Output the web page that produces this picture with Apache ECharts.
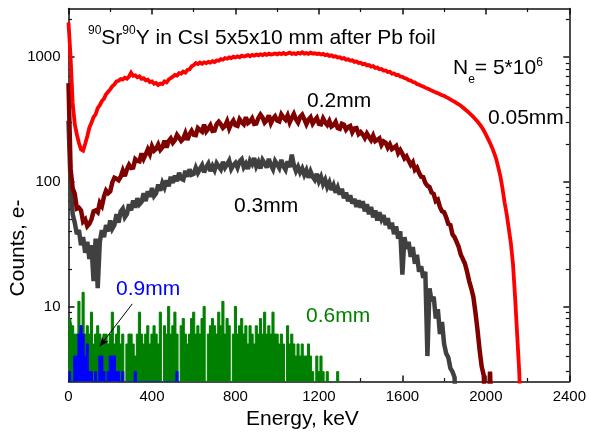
<!DOCTYPE html>
<html><head><meta charset="utf-8">
<script src="https://cdn.jsdelivr.net/npm/echarts@6/dist/echarts.min.js"></script>
<style>html,body{margin:0;padding:0;background:#fff}#c{width:589px;height:433px}</style>
</head><body><div id="c"></div>
<script>
// channel width of the spectra (keV); value i belongs to energy i*binKeV
const binKeV = 10;

// 0.05 mm Pb (red)
const counts005 = [1900, 1000, 430, 290, 240, 205, 182, 178, 202, 232,
 272, 298, 330, 348, 390, 412, 445, 465, 505, 528,
 552, 585, 605, 640, 648, 668, 662, 685, 672, 700,
 752, 708, 715, 690, 702, 672, 680, 652, 660, 632,
 640, 612, 622, 598, 615, 608, 640, 628, 662, 680,
 698, 722, 712, 745, 738, 768, 752, 790, 800, 845,
 862, 898, 880, 905, 885, 910, 895, 918, 905, 930,
 915, 942, 938, 965, 955, 985, 972, 998, 985, 1010,
 995, 1015, 1000, 1030, 1012, 1025, 1040, 1018, 1045, 1028,
 1050, 1035, 1055, 1040, 1062, 1045, 1068, 1050, 1060, 1072,
 1055, 1075, 1060, 1082, 1058, 1070, 1090, 1065, 1078, 1060,
 1085, 1070, 1095, 1068, 1080, 1062, 1088, 1070, 1075, 1060,
 1070, 1052, 1065, 1040, 1050, 1025, 1035, 1010, 1018, 995,
 1000, 975, 985, 955, 962, 940, 945, 918, 925, 900,
 905, 880, 885, 860, 865, 840, 848, 820, 825, 800,
 805, 780, 782, 760, 765, 738, 742, 720, 722, 700,
 695, 680, 672, 655, 650, 632, 628, 610, 600, 590,
 582, 570, 560, 552, 540, 532, 522, 515, 505, 495,
 490, 478, 470, 458, 448, 440, 428, 418, 408, 395,
 382, 370, 358, 345, 332, 318, 305, 290, 275, 258,
 240, 222, 205, 188, 170, 152, 130, 110, 88, 68,
 55, 42, 32, 22, 12, 6, 3, 1];

// 0.2 mm Pb (dark red)
const counts02 = [620, 127, 89, 80, 61, 62, 59, 48, 50, 44,
 46, 50, 58, 59, 57, 68, 64, 76, 85, 81,
 84, 99, 108, 106, 103, 110, 123, 111, 126, 137,
 129, 130, 152, 147, 146, 169, 153, 166, 182, 167,
 193, 178, 184, 199, 181, 190, 214, 188, 212, 223,
 206, 216, 238, 226, 213, 222, 245, 217, 241, 257,
 239, 237, 270, 261, 253, 288, 254, 267, 284, 256,
 258, 290, 303, 289, 271, 281, 306, 268, 293, 310,
 285, 281, 318, 301, 290, 330, 296, 305, 323, 292,
 294, 325, 346, 328, 299, 312, 341, 296, 321, 336,
 310, 305, 347, 328, 315, 341, 300, 326, 351, 318,
 299, 331, 345, 318, 290, 315, 330, 293, 311, 326,
 292, 289, 322, 300, 286, 308, 278, 285, 303, 270,
 266, 292, 287, 262, 275, 281, 250, 268, 270, 242,
 251, 240, 225, 244, 229, 216, 235, 212, 217, 223,
 198, 211, 206, 188, 200, 183, 188, 194, 170, 180,
 168, 154, 160, 148, 137, 144, 125, 130, 118, 110,
 109, 98, 93, 91, 82, 80, 70, 72, 63, 58,
 57, 52, 46, 45, 38, 36, 33, 30, 26, 24,
 22, 19, 16, 14, 12, 9, 6.5, 4.5, 3.3, 2.8,
 1, 1, 3, 1];

// 0.3 mm Pb (gray)
const counts03 = [310, 95, 55, 47, 38, 41, 31, 36, 27, 33,
 24, 31, 16, 35, 14, 33, 41, 36, 45, 40,
 49, 42, 45, 55, 47, 58, 61, 52, 55, 66,
 59, 71, 62, 74, 66, 69, 81, 70, 84, 76,
 89, 77, 81, 95, 85, 98, 90, 103, 92, 110,
 98, 112, 101, 118, 106, 104, 123, 110, 126, 114,
 116, 130, 118, 127, 136, 119, 131, 140, 122, 134,
 124, 141, 133, 126, 145, 130, 138, 148, 127, 136,
 142, 130, 146, 152, 131, 140, 127, 148, 139, 155,
 133, 144, 128, 150, 141, 130, 153, 136, 126, 147,
 138, 129, 150, 133, 125, 146, 131, 165, 136, 122,
 132, 119, 128, 114, 124, 108, 121, 110, 104, 116,
 101, 110, 96, 104, 91, 99, 86, 94, 82, 90,
 79, 88, 74, 82, 70, 78, 67, 73, 63, 71,
 62, 70, 58, 66, 55, 63, 52, 59, 49, 57,
 50, 54, 45, 51, 42, 47, 38, 44, 35, 40,
 18, 36, 29, 33, 25, 30, 22, 26, 19, 21,
 17, 19, 4, 14, 11, 12, 8, 9.5, 6, 7.5,
 5, 4.2, 3.9, 3.2, 3, 2.7, 1];

// 0.6 mm Pb (green)
const counts06 = [8, 8, 7, 6, 6, 11, 7, 13, 6, 7,
 6, 9, 5, 6, 7, 6, 5, 6, 6, 5,
 6, 9, 5, 6, 7, 5, 6, 1, 5, 6,
 6, 5, 4, 6, 9, 6, 5, 6, 7, 5,
 6, 7, 6, 5, 9, 1, 7, 6, 10, 6,
 7, 9, 6, 1, 7, 8, 6, 5, 6, 8,
 9, 6, 7, 6, 8, 10, 1, 6, 7, 8,
 7, 6, 9, 7, 11, 6, 8, 7, 1, 6,
 10, 6, 7, 8, 6, 7, 5, 7, 6, 5,
 7, 6, 8, 6, 9, 6, 7, 6, 9, 6,
 6, 5, 6, 5, 1, 7, 5, 6, 5, 4,
 5, 4, 5, 4, 4, 5, 4, 3, 1, 4,
 3, 4, 3, 1, 3, 1, 1, 1, 1, 3, 1];

// 0.9 mm Pb (blue)
const counts09 = [3, 3, 1, 4, 4, 6, 7, 6, 4, 5,
 3, 3, 1, 3, 1, 4, 4, 3, 1, 3,
 4, 4, 4, 3, 3, 1, 3, 1, 1, 1,
 1, 1, 3, 1, 1, 1, 1, 1, 1, 1,
 1, 1, 1, 1, 1, 1, 1, 1, 1, 1,
 1, 1, 3, 1];

const xTickInterval = 400;
const yMajorTicks = [10, 100, 1000];
const yMinorTicks = [3, 4, 5, 6, 7, 8, 9, 20, 30, 40, 50, 60, 70, 80, 90,
  200, 300, 400, 500, 600, 700, 800, 900, 2000];
// arrow pointing to the 0.9 mm spectrum: [keV, counts]
const arrowFrom = [306, 10.5];
const arrowTo = [150, 4.8];

function toPairs(arr) { return arr.map((v, i) => [i * binKeV, v]); }

const FONT = '"Liberation Sans", Arial, Helvetica, sans-serif';
const AX = '#111';
const chart = echarts.init(document.getElementById('c'), null, {renderer: 'canvas'});

const xBase = {
  type: 'value', min: 0, max: 2400, interval: xTickInterval,
  axisLine: {show: true, lineStyle: {color: AX, width: 1.5}},
  axisTick: {show: true, inside: true, length: 6, lineStyle: {color: AX, width: 1.5}},
  minorTick: {show: true, splitNumber: 2, length: 3.5, lineStyle: {color: AX, width: 1.2}},
  splitLine: {show: false}, minorSplitLine: {show: false}
};
const yBase = {
  type: 'log', logBase: 10, min: 2.5, max: 2460,
  splitLine: {show: false}, minorSplitLine: {show: false},
  axisLine: {show: false}, axisLabel: {show: false}, axisTick: {show: false}
};
const majorTick = {show: true, inside: true, length: 6, customValues: yMajorTicks, lineStyle: {color: AX, width: 1.5}};
const minorTick = {show: true, inside: true, length: 3.5, customValues: yMinorTicks, lineStyle: {color: AX, width: 1.2}};

function lineSeries(name, arr, color, width) {
  return {
    name, type: 'line', data: toPairs(arr), xAxisIndex: 0, yAxisIndex: 0,
    showSymbol: false, symbol: 'none', sampling: null,
    lineStyle: {color, width, join: 'miter', miterLimit: 3}, itemStyle: {color}, clip: true, animation: false
  };
}
function histSeries(name, arr, color) {
  return {
    name, type: 'line', data: toPairs(arr), xAxisIndex: 0, yAxisIndex: 0,
    step: 'middle', showSymbol: false, symbol: 'none',
    lineStyle: {color, width: 1}, itemStyle: {color},
    areaStyle: {color, opacity: 1, origin: 'start'}, clip: true, animation: false
  };
}

const blue = histSeries('0.9mm', counts09, '#0000ff');
blue.markLine = {
  silent: true, symbol: ['none', 'arrow'], symbolSize: [6, 9],
  label: {show: false},
  lineStyle: {color: '#000', width: 1, type: 'solid'},
  data: [[{coord: arrowFrom}, {coord: arrowTo}]],
  animation: false
};

const txt = (text, x, y, color) => ({
  type: 'text', x, y, z: 100,
  style: {text, fill: color || '#000', fontSize: 21, fontFamily: FONT, align: 'left', verticalAlign: 'middle'}
});

chart.setOption({
  animation: false,
  backgroundColor: '#fff',
  grid: {left: 68.5, right: 17.5, top: 8.5, bottom: 51.5, containLabel: false},
  xAxis: [
    Object.assign({}, xBase, {position: 'bottom',
      axisLabel: {show: true, fontSize: 15, color: '#000', fontFamily: FONT, margin: 8,
        formatter: v => String(Math.round(v))}}),
    Object.assign({}, xBase, {position: 'top', axisLabel: {show: false}})
  ],
  yAxis: [
    Object.assign({}, yBase, {position: 'left',
      axisLine: {show: true, lineStyle: {color: AX, width: 1.5}},
      axisTick: majorTick,
      axisLabel: {show: true, customValues: yMajorTicks, formatter: v => String(Math.round(v)),
        fontSize: 15, color: '#000', fontFamily: FONT, margin: 8}}),
    Object.assign({}, yBase, {position: 'left', axisTick: minorTick}),
    Object.assign({}, yBase, {position: 'right',
      axisLine: {show: true, lineStyle: {color: AX, width: 1.5}}, axisTick: majorTick}),
    Object.assign({}, yBase, {position: 'right', axisTick: minorTick})
  ],
  series: [
    histSeries('0.6mm', counts06, '#008000'),
    blue,
    lineSeries('0.3mm', counts03, '#404040', 4.5),
    lineSeries('0.2mm', counts02, '#800000', 4.5),
    lineSeries('0.05mm', counts005, '#ff0000', 3.8)
  ],
  graphic: [
    {type: 'text', x: 88, y: 22.8, z: 100, style: {
      text: '{s|90}{m|Sr}{s|90}{m|Y in CsI 5x5x10 mm after Pb foil}',
      verticalAlign: 'top', align: 'left',
      rich: {
        m: {fontSize: 21, lineHeight: 21, padding: [5, 0, 0, 0], verticalAlign: 'top', fontFamily: FONT, fill: '#000'},
        s: {fontSize: 12, lineHeight: 12, padding: [2, 0, 0, 0], verticalAlign: 'top', fontFamily: FONT, fill: '#000'}
      }}},
    {type: 'text', x: 453, y: 51.8, z: 100, style: {
      text: '{m|N}{b|e}{m|= 5*10}{s|6}',
      verticalAlign: 'top', align: 'left',
      rich: {
        m: {fontSize: 21, lineHeight: 21, padding: [6, 0, 0, 0], verticalAlign: 'top', fontFamily: FONT, fill: '#000'},
        b: {fontSize: 12, lineHeight: 12, padding: [22, 0, 0, 0], verticalAlign: 'top', fontFamily: FONT, fill: '#000'},
        s: {fontSize: 12, lineHeight: 12, padding: [4.7, 0, 0, 0], verticalAlign: 'top', fontFamily: FONT, fill: '#000'}
      }}},
    txt('0.05mm', 488, 118),
    txt('0.2mm', 307, 101),
    txt('0.3mm', 234, 206),
    txt('0.9mm', 116, 289, '#0000ff'),
    txt('0.6mm', 306, 316, '#008000'),
    {type: 'text', x: 246, y: 419, z: 100, style: {text: 'Energy, keV', fill: '#000', fontSize: 21, fontFamily: FONT, align: 'left', verticalAlign: 'middle'}},
    {type: 'text', x: 18, y: 248, rotation: Math.PI / 2, z: 100, style: {text: 'Counts, e-', fill: '#000', fontSize: 21, fontFamily: FONT, align: 'center', verticalAlign: 'middle'}}
  ]
});
</script></body></html>
